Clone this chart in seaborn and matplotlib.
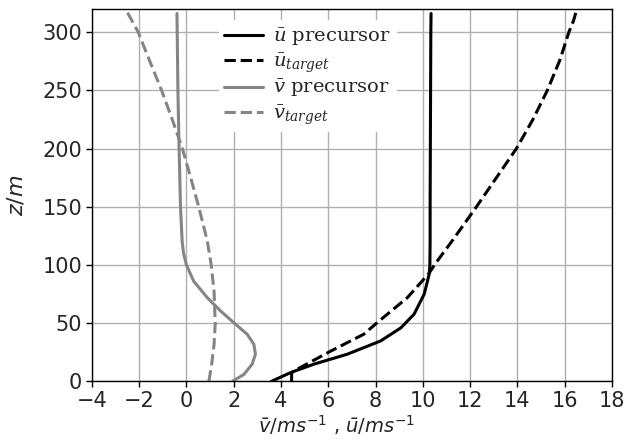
import matplotlib
matplotlib.use("Agg")
import matplotlib.pyplot as plt
import seaborn as sns
import pandas as pd

# Mean wind profiles: heights (m) and velocity components (m/s)
z_u_prec = [0, 7.6, 14.8, 23.4, 34.8, 46, 57.7, 75, 92, 100, 120, 150, 200, 250, 300, 316]
u_prec = [3.59, 4.41, 5.39, 6.81, 8.22, 9.07, 9.63, 10.06, 10.27, 10.30, 10.31, 10.31, 10.32, 10.33,
          10.34, 10.35]

z_u_tgt = [0, 7.6, 10.5, 26, 40.5, 51, 72, 93, 100, 121.5, 150, 179, 200, 225, 250, 276, 300, 310, 320]
u_tgt = [4.45, 4.45, 4.69, 6.10, 7.50, 8.10, 9.35, 10.27, 10.49, 11.27, 12.27, 13.25, 13.96, 14.66,
         15.27, 15.80, 16.18, 16.38, 16.52]

z_v_prec = [0, 6, 14.8, 23.4, 32, 40.5, 50.5, 60.6, 72, 86, 100, 110, 120, 150, 200, 250, 300, 316]
v_prec = [1.94, 2.43, 2.78, 2.92, 2.85, 2.57, 2.00, 1.44, 0.88, 0.31, 0.00, -0.12, -0.18, -0.25,
          -0.31, -0.36, -0.39, -0.40]

z_v_tgt = [0, 15, 32, 50, 77, 100, 121, 150, 175, 200, 225, 250, 275, 300, 320]
v_tgt = [0.95, 1.07, 1.17, 1.22, 1.17, 1.05, 0.88, 0.52, 0.18, -0.17, -0.60, -1.05, -1.55, -2.04, -2.58]

x_ticks = [-4, -2, 0, 2, 4, 6, 8, 10, 12, 14, 16, 18]
z_ticks = [0, 50, 100, 150, 200, 250, 300]

sns.set_style("ticks", {"axes.grid": True, "grid.color": "#b0b0b0",
                        "axes.edgecolor": "black", "xtick.direction": "out",
                        "ytick.direction": "out"})
plt.rcParams["font.family"] = ["DejaVu Sans"]
plt.rcParams["font.size"] = 14

fig = plt.figure(figsize=(6.25, 4.43), dpi=100)
ax = fig.add_axes([0.147, 0.139, 0.832, 0.841])

profiles = [
    (u_prec, z_u_prec, "black", "-", r"$\bar{u}$ precursor"),
    (u_tgt, z_u_tgt, "black", "--", r"$\bar{u}_{target}$"),
    (v_prec, z_v_prec, "#858585", "-", r"$\bar{v}$ precursor"),
    (v_tgt, z_v_tgt, "#858585", "--", r"$\bar{v}_{target}$"),
]
for vel, z, col, ls, lab in profiles:
    df = pd.DataFrame({"vel": vel, "z": z})
    sns.lineplot(data=df, x="vel", y="z", sort=False, estimator=None, ax=ax,
                 color=col, linestyle=ls, linewidth=2.2, label=lab)

ax.set_xlim(-4, 18)
ax.set_ylim(0, 320)
ax.set_xticks(x_ticks)
ax.set_yticks(z_ticks)
ax.tick_params(labelsize=15, length=4, width=1, color="black", pad=3)
ax.grid(True, color="#b0b0b0", linewidth=1)
for s in ax.spines.values():
    s.set_color("black")
    s.set_linewidth(1)

ax.set_xlabel(r"$\bar{v}/ms^{-1}$ , $\bar{u}/ms^{-1}$", fontsize=14)
ax.xaxis.set_label_coords(0.47, -0.085)
ax.set_ylabel(r"$z/m$", fontsize=16)
ax.yaxis.set_label_coords(-0.125, 0.5)

leg = ax.legend(loc="upper left", bbox_to_anchor=(0.225, 0.995),
                prop={"family": "DejaVu Serif", "size": 14},
                frameon=True, framealpha=1, facecolor="white", edgecolor="none",
                handlelength=2.0, handletextpad=0.5, labelspacing=0.18,
                borderpad=0.3, fancybox=False)
for t in leg.get_texts():
    t.set_math_fontfamily("dejavuserif")

fig.savefig("out.png", dpi=100)
